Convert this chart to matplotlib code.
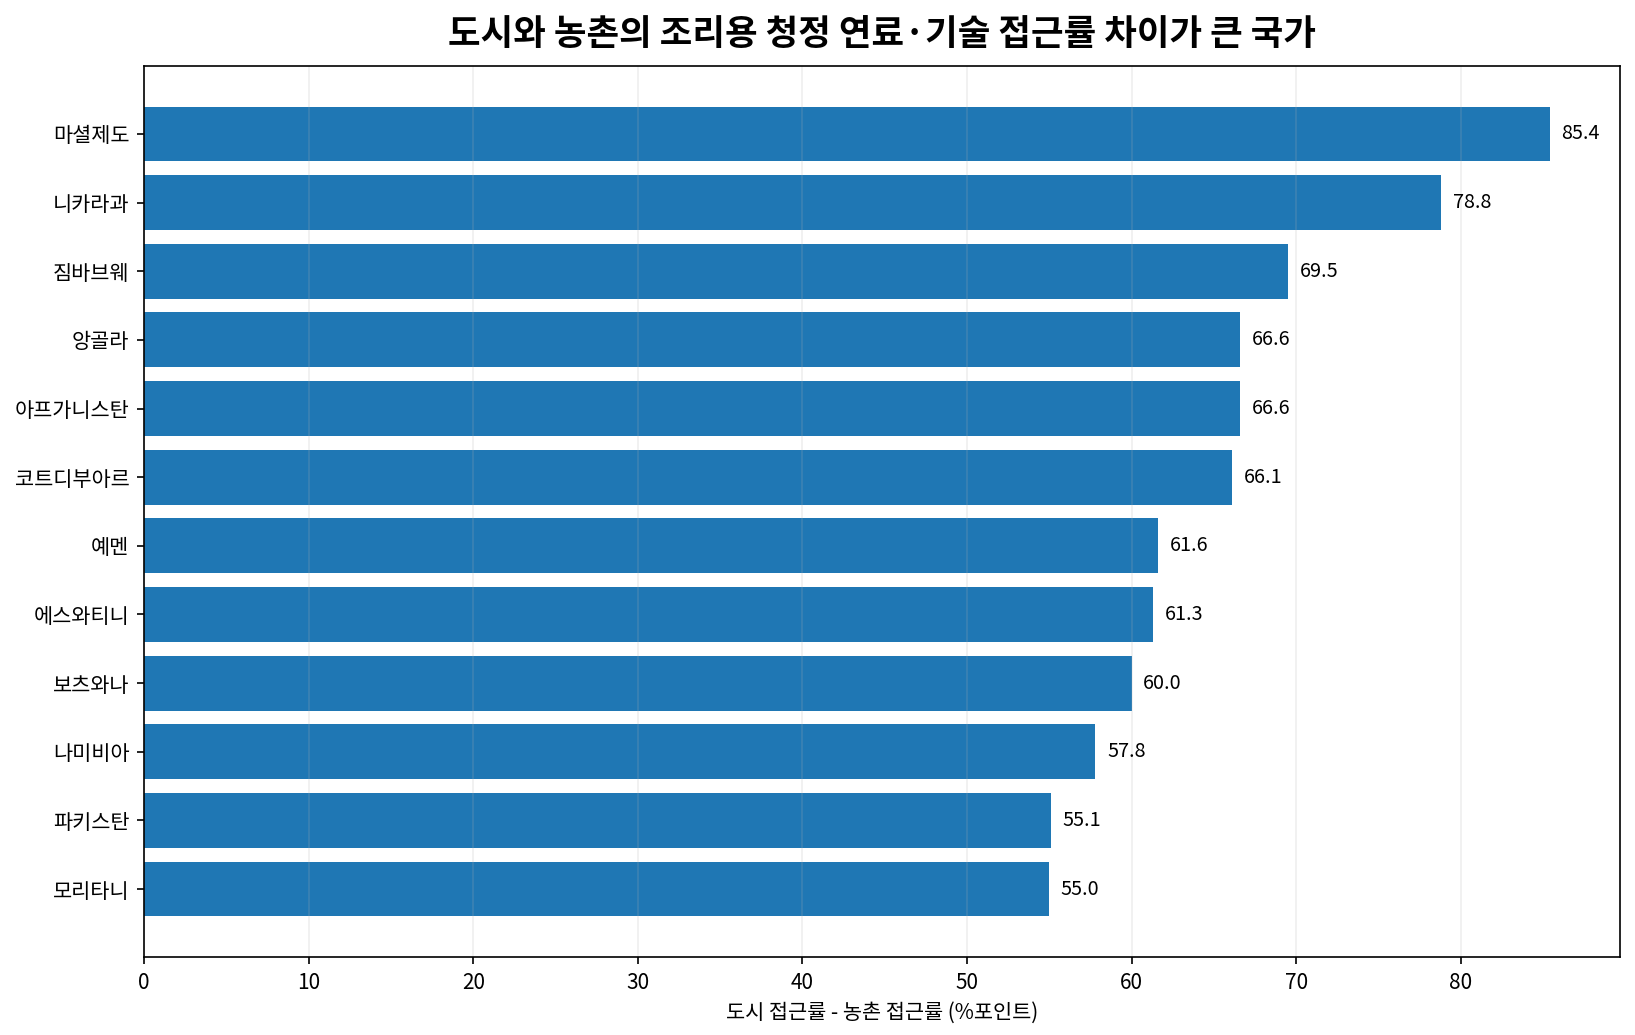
import matplotlib
matplotlib.use('Agg')
import matplotlib.pyplot as plt

plt.rcParams['font.family'] = ['Noto Sans CJK KR', 'DejaVu Sans']

# countries, top to bottom as in the chart
countries = ['마셜제도', '니카라과', '짐바브웨', '앙골라', '아프가니스탄', '코트디부아르',
             '예멘', '에스와티니', '보츠와나', '나미비아', '파키스탄', '모리타니']
gap = [85.4, 78.8, 69.5, 66.6, 66.6, 66.1, 61.6, 61.3, 60.0, 57.8, 55.1, 55.0]

# plot in ascending order so the largest ends up on top
countries_plot = countries[::-1]
gap_plot = gap[::-1]

fig, ax = plt.subplots(figsize=(10.9, 6.9), dpi=150)
fig.subplots_adjust(left=0.0881, right=0.9908, top=0.9362, bottom=0.0754)

bars = ax.barh(countries_plot, gap_plot, color='#1f77b4')

for b, v in zip(bars, gap_plot):
    ax.text(v + 0.7, b.get_y() + b.get_height() / 2, '%.1f' % v,
            va='center', ha='left', fontsize=9.5)

ax.set_title('도시와 농촌의 조리용 청정 연료·기술 접근률 차이가 큰 국가',
             fontsize=17, fontweight='bold', pad=10)
ax.set_xlabel('도시 접근률 - 농촌 접근률 (%포인트)', fontsize=10)
ax.tick_params(labelsize=10)
ax.grid(axis='x', alpha=0.2)

fig.savefig('out.png', dpi=150)
